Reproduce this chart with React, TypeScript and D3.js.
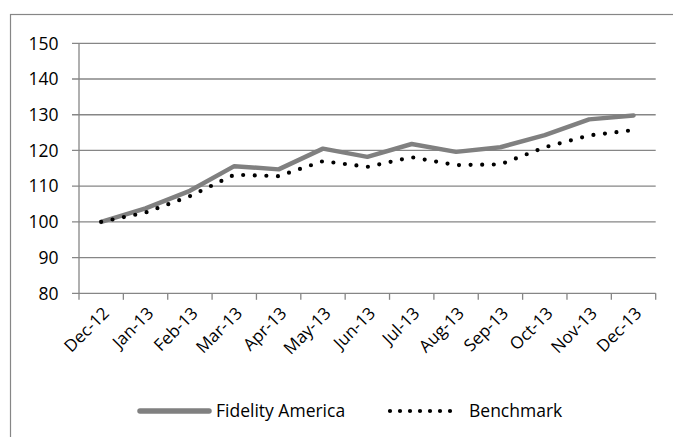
import React, { useEffect, useRef } from "react";
import * as d3 from "d3";

const months = ["Dec-12", "Jan-13", "Feb-13", "Mar-13", "Apr-13", "May-13", "Jun-13", "Jul-13", "Aug-13", "Sep-13", "Oct-13", "Nov-13", "Dec-13"];
const fidelity = [100, 103.8, 108.7, 115.6, 114.7, 120.5, 118.2, 121.8, 119.6, 120.9, 124.3, 128.7, 129.8];
const benchmark = [100, 102.6, 107.2, 113.2, 112.8, 117.0, 115.4, 118.1, 115.9, 116.1, 120.9, 124.2, 125.7];
const yTicks = [80, 90, 100, 110, 120, 130, 140, 150];

const FONT = "'Open Sans', sans-serif";
const GRID = "#868686";

const App: React.FC = () => {
  const svgRef = useRef<SVGSVGElement>(null);

  useEffect(() => {
    if (!svgRef.current) return;
    const svg = d3.select(svgRef.current);
    svg.selectAll("*").remove();

    const x = d3.scaleBand<string>().domain(months).range([79, 655.7]);
    const y = d3.scaleLinear().domain([80, 150]).range([293.3, 43.3]);
    const cx = (m: string) => (x(m) ?? 0) + x.bandwidth() / 2;

    // chart border (only left and top fall inside the picture)
    svg.append("rect")
      .attr("x", 10.5).attr("y", 14.5)
      .attr("width", 700).attr("height", 500)
      .attr("fill", "none").attr("stroke", GRID).attr("stroke-width", 1.2);

    // gridlines + y ticks
    svg.append("g")
      .selectAll("line")
      .data(yTicks)
      .enter()
      .append("line")
      .attr("x1", 72).attr("x2", 655.7)
      .attr("y1", (d) => y(d)).attr("y2", (d) => y(d))
      .attr("stroke", GRID).attr("stroke-width", 1.3);

    svg.append("g")
      .selectAll("text")
      .data(yTicks)
      .enter()
      .append("text")
      .attr("x", 58.5)
      .attr("y", (d) => y(d))
      .attr("dy", "0.36em")
      .attr("text-anchor", "end")
      .attr("font-family", FONT)
      .attr("font-size", 17.5)
      .attr("fill", "#000")
      .text((d) => d);

    // y axis line
    svg.append("line")
      .attr("x1", 79).attr("x2", 79)
      .attr("y1", y(150)).attr("y2", y(80))
      .attr("stroke", GRID).attr("stroke-width", 1.3);

    // x ticks between categories
    const bounds = months.map((m) => x(m) ?? 0).concat([655.7]);
    svg.append("g")
      .selectAll("line")
      .data(bounds)
      .enter()
      .append("line")
      .attr("x1", (d) => d).attr("x2", (d) => d)
      .attr("y1", y(80)).attr("y2", y(80) + 6.5)
      .attr("stroke", GRID).attr("stroke-width", 1.3);

    svg.append("g")
      .selectAll("text")
      .data(months)
      .enter()
      .append("text")
      .attr("transform", (d) => `translate(${cx(d) + 9},${y(80) + 21}) rotate(-45)`)
      .attr("text-anchor", "end")
      .attr("font-family", FONT)
      .attr("font-size", 17)
      .attr("fill", "#000")
      .text((d) => d);

    const line = d3.line<number>()
      .x((_, i) => cx(months[i]))
      .y((d) => y(d));

    svg.append("path")
      .datum(fidelity)
      .attr("d", line)
      .attr("fill", "none")
      .attr("stroke", "#808080")
      .attr("stroke-width", 4.5)
      .attr("stroke-linejoin", "round")
      .attr("stroke-linecap", "round");

    svg.append("path")
      .datum(benchmark)
      .attr("d", line)
      .attr("fill", "none")
      .attr("stroke", "#000")
      .attr("stroke-width", 4.2)
      .attr("stroke-dasharray", "0 11.6")
      .attr("stroke-linecap", "round");

    // legend
    const ly = 411;
    svg.append("line")
      .attr("x1", 140).attr("x2", 209)
      .attr("y1", ly).attr("y2", ly)
      .attr("stroke", "#808080").attr("stroke-width", 5.5)
      .attr("stroke-linecap", "round");
    svg.append("text")
      .attr("x", 216).attr("y", ly).attr("dy", "0.36em")
      .attr("font-family", FONT).attr("font-size", 17.5)
      .text("Fidelity America");
    svg.append("line")
      .attr("x1", 390).attr("x2", 451)
      .attr("y1", ly).attr("y2", ly)
      .attr("stroke", "#000").attr("stroke-width", 4.2)
      .attr("stroke-dasharray", "0 10")
      .attr("stroke-linecap", "round");
    svg.append("text")
      .attr("x", 469).attr("y", ly).attr("dy", "0.36em")
      .attr("font-family", FONT).attr("font-size", 17.5)
      .text("Benchmark");
  }, []);

  return (
    <svg
      ref={svgRef}
      width={673}
      height={437}
      style={{ position: "absolute", left: 0, top: 0, background: "#fff" }}
    />
  );
};

export default App;
